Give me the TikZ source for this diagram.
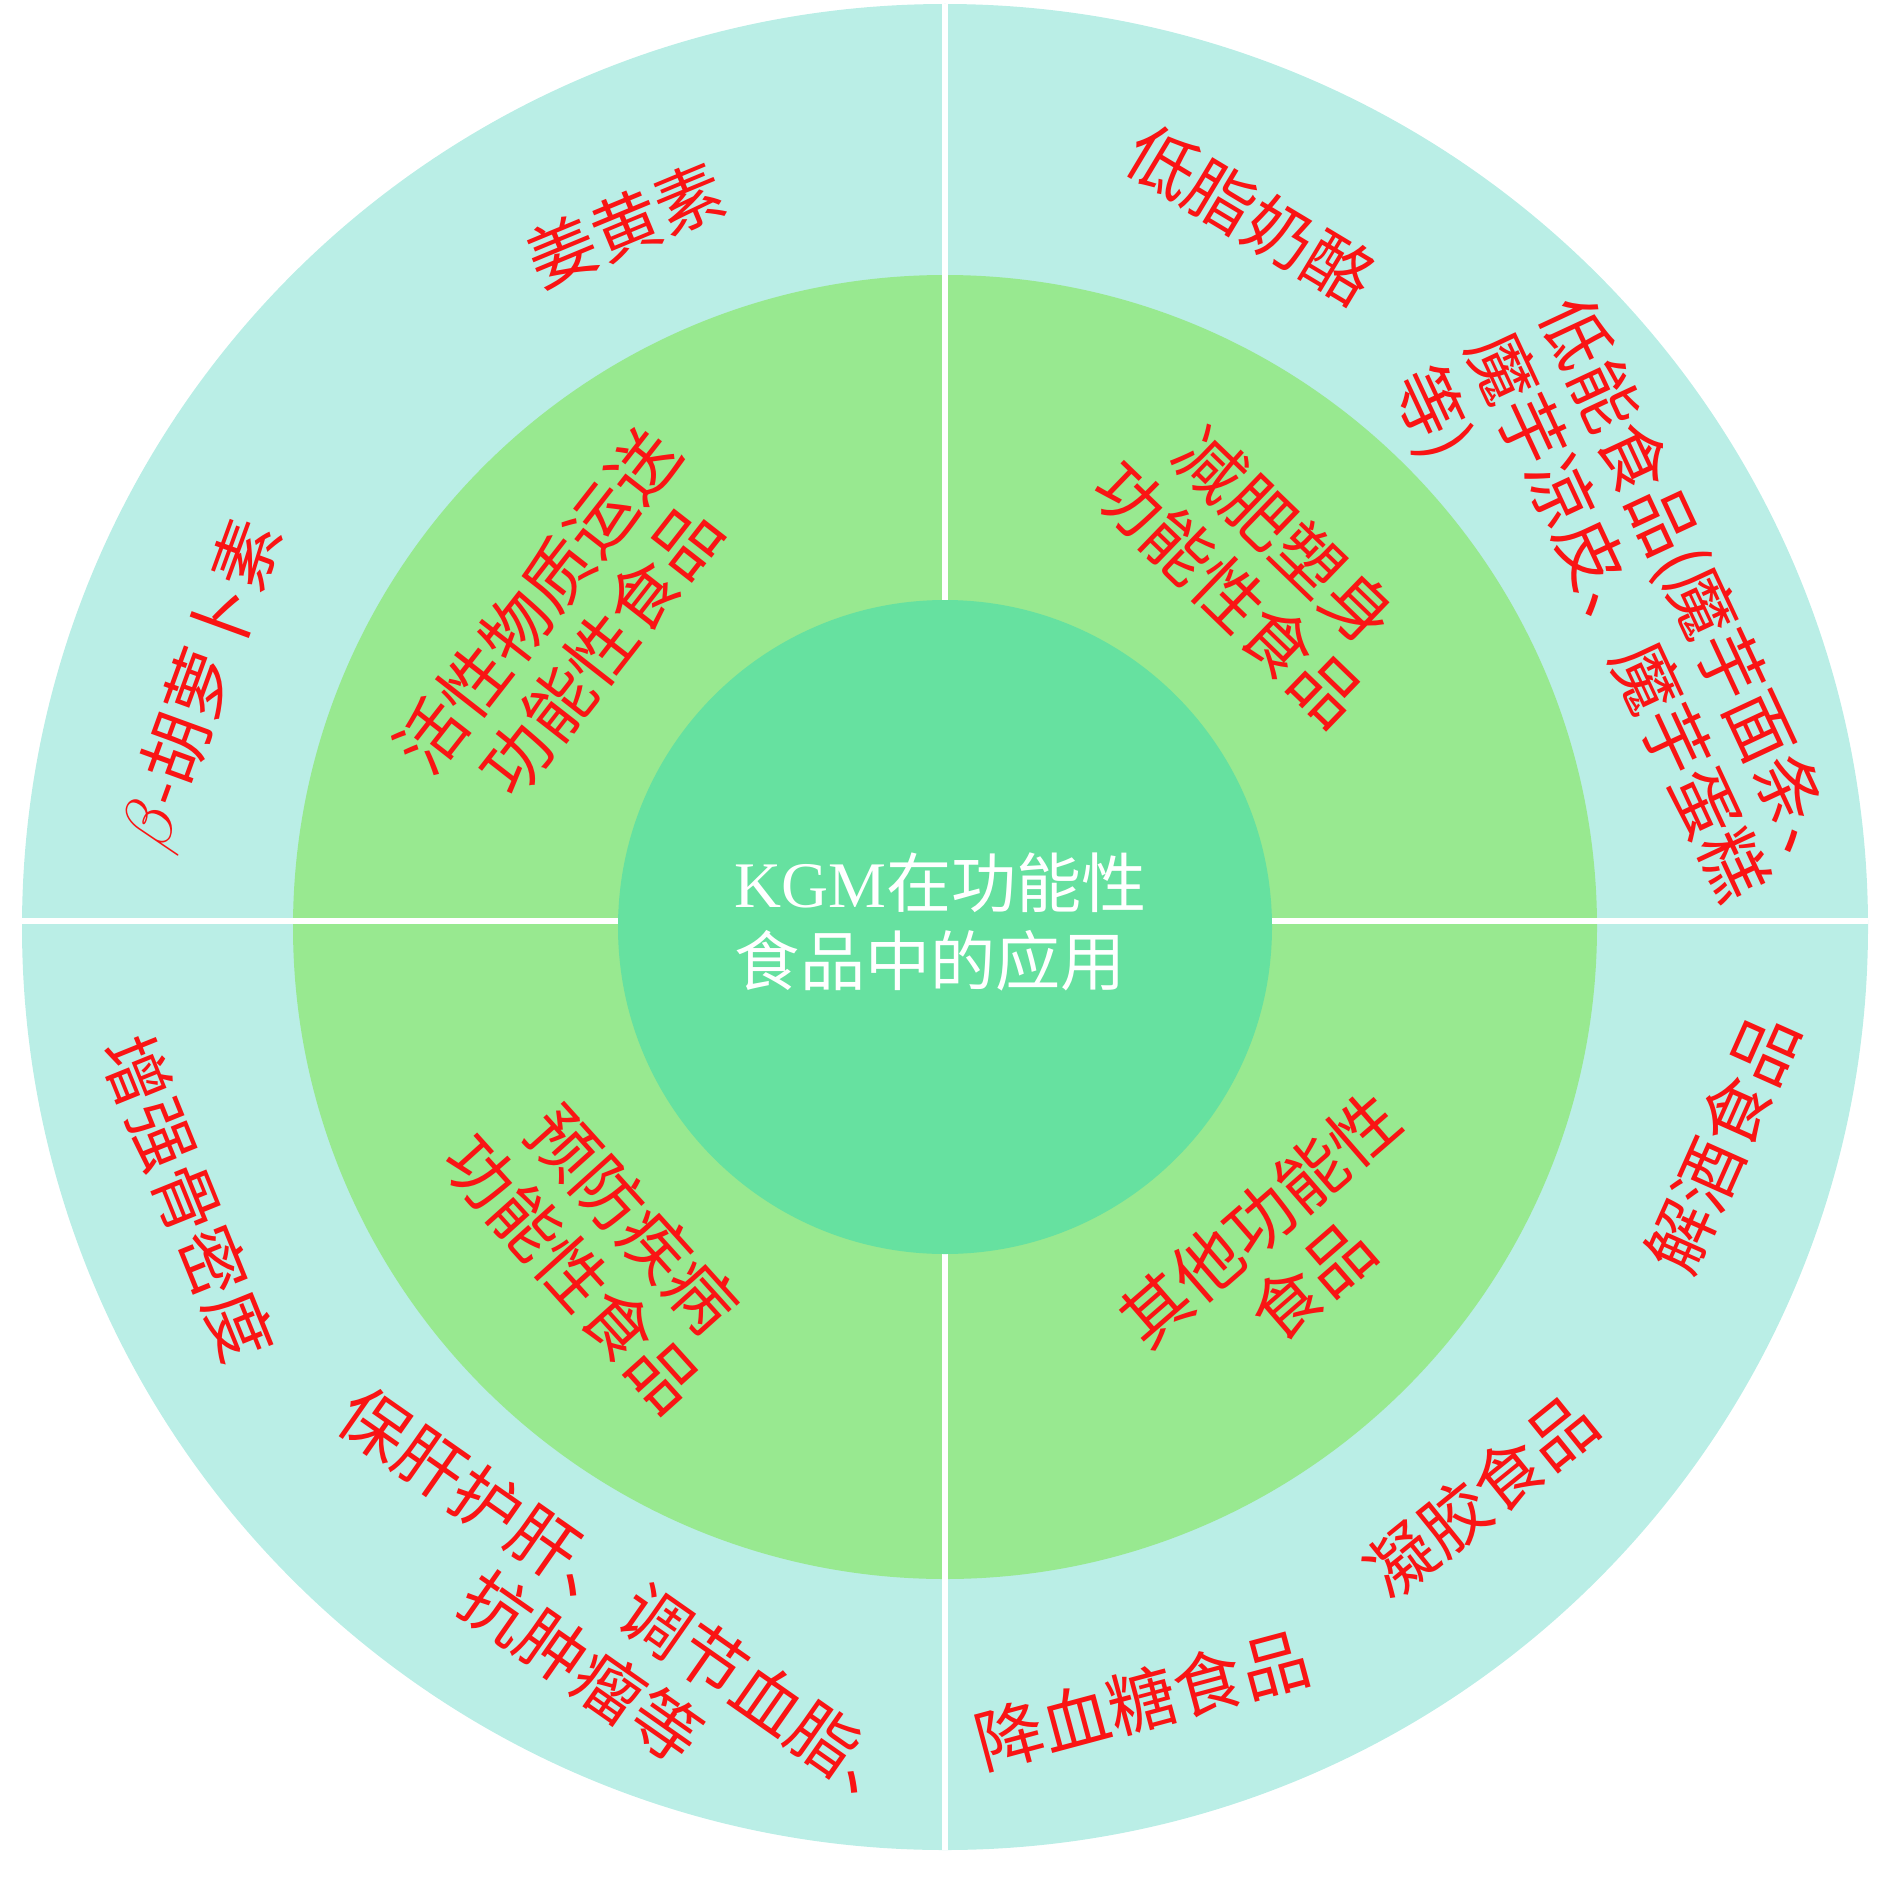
\documentclass[tikz,border=0pt]{standalone}
\usepackage{fontspec}
\setmainfont{Liberation Serif}
\newfontfamily\cjk{Noto Sans CJK SC}
\definecolor{outerring}{RGB}{186,238,230}
\definecolor{midring}{RGB}{152,233,144}
\definecolor{core}{RGB}{102,225,160}
\definecolor{labelred}{RGB}{250,20,20}

\begin{document}
\begin{tikzpicture}[x=0.01cm, y=-0.01cm,
	lab/.style={text=labelred, font=\cjk\fontsize{19.5}{23}\selectfont, inner sep=0pt, align=center},
	divider/.style={draw=white, line width=1.7pt}]
	\useasboundingbox (0, 0) rectangle (1890, 1891);
	\coordinate (c) at (945, 927);
	\fill[outerring] (c) circle[radius=923];
	\fill[midring] (c) circle[radius=652];
	\draw[divider] (22, 921) -- (1868, 921);
	\draw[divider] (945, 4) -- (945, 1850);
	\fill[core] (c) circle[radius=327];
	\node[text=white, inner sep=0pt, align=left, font=\cjk\fontsize{18.5}{22.2}\selectfont] (title) at (941, 922) {{\rmfamily KGM}在功能性\\食品中的应用};
	\node[lab, rotate=52] (huoxing) at (569, 625) {活性物质运送\\功能性食品};
	\node[lab, rotate=-44] (jianfei) at (1257, 565) {减肥塑身\\功能性食品};
	\node[lab, rotate=-48] (yufang) at (603, 1246) {预防疾病\\功能性食品};
	\node[lab, rotate=41] (qita) at (1286, 1250) {其他功能性\\食品};
	\node[lab, rotate=22.5] (jiang) at (626, 225) {姜黄素};
	\node[lab, rotate=70] (beta) at (203, 685) {$\beta$-胡萝卜素};
	\node[lab, rotate=-31] (dizhi) at (1251, 215) {低脂奶酪};
	\node[lab, rotate=-65, align=left, anchor=west] (dineng) at (1485, 337) {低能食品(魔芋面条、\\魔芋凉皮、魔芋蛋糕\\等)};
	\node[lab, rotate=-68] (gumi) at (188, 1198) {增强骨密度};
	\node[lab, rotate=-35] (baogan) at (605, 1634) {保肝护肝、调节血脂、\\抗肿瘤等};
	\node[lab, rotate=66] (jiejiu) at (1722, 1143) {解酒食品};
	\node[lab, rotate=39] (ningjiao) at (1481, 1496) {凝胶食品};
	\node[lab, rotate=15] (xuetang) at (1142, 1700) {降血糖食品};
\end{tikzpicture}
\end{document}
